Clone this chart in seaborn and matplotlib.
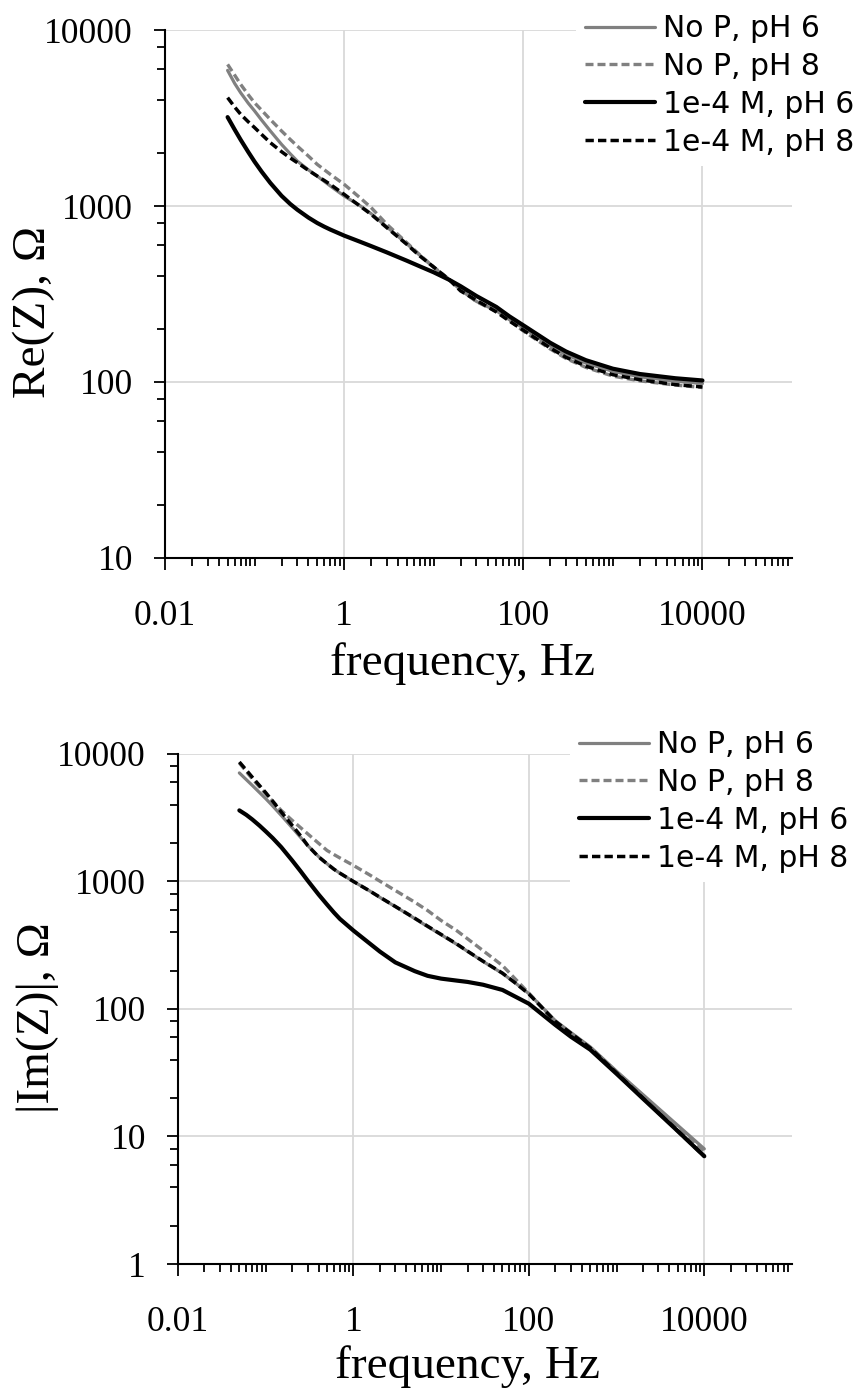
import matplotlib

matplotlib.use("Agg")
import matplotlib.pyplot as plt
import seaborn as sns
from matplotlib.ticker import FixedLocator, FuncFormatter, NullFormatter

# =============================================================================
# DATA
# =============================================================================
freq = [0.05, 0.06, 0.07, 0.085, 0.1, 0.12, 0.15, 0.2, 0.25, 0.3, 0.4, 0.5,
        0.6, 0.7, 1, 1.5, 2, 3, 5, 7, 10, 15, 20, 30, 50, 70, 100, 200, 300,
        500, 1000, 2000, 5000, 10000]

labels = ["No P, pH 6", "No P, pH 8", "1e-4 M, pH 6", "1e-4 M, pH 8"]

# Re(Z), ohm
re_nop_ph6 = [5900, 4970, 4400, 3840, 3470, 3075, 2670, 2240, 1980, 1800, 1603,
              1480, 1380, 1300, 1140, 1005, 905, 760, 610, 525, 447, 380, 333,
              287, 254, 226, 203, 161, 143, 128, 115, 107, 101, 98]
re_nop_ph8 = [6380, 5540, 4910, 4290, 3860, 3500, 3100, 2670, 2390, 2190, 1920,
              1725, 1607, 1514, 1328, 1115, 980, 787, 619, 527, 450, 382, 335,
              286, 252, 224, 195, 154, 136, 121, 108, 101.5, 96, 93]
re_p_ph6 = [3200, 2716, 2377, 2028, 1786, 1567, 1352, 1143, 1027, 953, 859, 801,
            763, 735, 679, 627, 592, 545, 489, 454, 420, 380, 350, 308, 267,
            236, 210, 167, 149, 133, 119, 111, 105, 102]
re_p_ph8 = [4130, 3650, 3320, 3010, 2790, 2550, 2290, 2036, 1875, 1763, 1593,
            1480, 1397, 1327, 1165, 1000, 897, 753, 606, 520, 450, 380, 329,
            291, 250, 222, 197, 156, 138, 123, 110, 103, 96.6, 93.7]

# |Im(Z)|, ohm
im_nop_ph6 = [7100, 6290, 5680, 4980, 4460, 3910, 3300, 2640, 2215, 1920, 1570,
              1377, 1247, 1162, 1000, 850, 750, 635, 512, 443, 382, 322, 283,
              236, 190, 160, 132, 81, 65.5, 50.5, 32.5, 21.3, 12.2, 8.0]
im_nop_ph8 = [8500, 7280, 6400, 5500, 4870, 4260, 3610, 3016, 2640, 2367, 1995,
              1750, 1625, 1530, 1336, 1135, 1006, 850, 688, 592, 494, 412, 355,
              287, 219, 172, 133, 80, 64.5, 50, 32, 20.8, 11.8, 7.7]
im_p_ph6 = [3610, 3330, 3070, 2740, 2470, 2190, 1860, 1462, 1202, 1018, 791,
            659, 570, 509, 412, 330, 282, 232, 198, 182, 173, 167, 163, 155,
            141, 125, 110, 75, 60.7, 48, 31, 19.8, 11.0, 7.0]
im_p_ph8 = [8650, 7480, 6590, 5650, 4970, 4260, 3510, 2755, 2280, 1920, 1560,
            1377, 1247, 1162, 1000, 850, 753, 637, 515, 446, 384, 324, 284,
            237, 191, 160, 131, 80, 64.7, 49.5, 31.5, 20.0, 11.0, 7.0]

# tick positions
x_major = [0.01, 1, 100, 10000]
x_minor = [m * 10.0 ** e for e in range(-2, 5) for m in range(1, 10)
           if m * 10.0 ** e <= 100000]
re_major = [10, 100, 1000, 10000]
im_major = [1, 10, 100, 1000, 10000]

# line styles: (color, linestyle, linewidth)
styles = [
    ("#808080", "-", 2.3),
    ("#808080", (0, (2.4, 1.2)), 2.4),
    ("#000000", "-", 3.0),
    ("#000000", (0, (2.4, 1.2)), 2.5),
]

# =============================================================================
# STYLE
# =============================================================================
sns.set_theme(style="white")
plt.rcParams["font.family"] = ["Liberation Serif", "DejaVu Serif"]
plt.rcParams["axes.linewidth"] = 1.5

fig = plt.figure(figsize=(8.58, 13.97), dpi=100)
ax_re = fig.add_axes([0.1923, 0.6006, 0.7308, 0.3779])
ax_im = fig.add_axes([0.2075, 0.0952, 0.7156, 0.3651])


def fmt_num(v, pos):
    return "{:g}".format(v)


def draw_panel(ax, series, y_major, ylabel, ylabel_xy, xlabel_x, legend_xy):
    for vals, lab, (col, ls, lw) in zip(series, labels, styles):
        sns.lineplot(x=freq, y=vals, ax=ax, color=col, linestyle=ls,
                     linewidth=lw, label=lab, estimator=None,
                     solid_capstyle="round")

    ax.set_xscale("log")
    ax.set_yscale("log")
    ax.set_xlim(0.01, 100000)
    ax.set_ylim(y_major[0], y_major[-1])

    y_minor = [m * v for v in y_major[:-1] for m in (2, 4, 6, 8)]
    ax.xaxis.set_major_locator(FixedLocator(x_major))
    ax.xaxis.set_minor_locator(FixedLocator(x_minor))
    ax.yaxis.set_major_locator(FixedLocator(y_major))
    ax.yaxis.set_minor_locator(FixedLocator(y_minor))
    ax.xaxis.set_major_formatter(FuncFormatter(fmt_num))
    ax.yaxis.set_major_formatter(FuncFormatter(fmt_num))
    ax.xaxis.set_minor_formatter(NullFormatter())
    ax.yaxis.set_minor_formatter(NullFormatter())

    ax.tick_params(axis="both", which="both", direction="out", color="black",
                   width=1.3, labelsize=25.5, labelcolor="black")
    ax.tick_params(axis="x", which="major", length=8.5, pad=22)
    ax.tick_params(axis="x", which="minor", length=5.5)
    ax.tick_params(axis="y", which="major", length=8, pad=15)
    ax.tick_params(axis="y", which="minor", length=5.5)
    ax.tick_params(top=False, right=False, bottom=True, left=True, which="both")

    for side in ["top", "right"]:
        ax.spines[side].set_visible(False)
    for side in ["left", "bottom"]:
        ax.spines[side].set_color("black")
        ax.spines[side].set_linewidth(1.5)

    ax.set_axisbelow(True)
    ax.grid(True, which="major", color="#d9d9d9", linewidth=1.3)
    ax.grid(False, which="minor")

    ax.set_xlabel("frequency, Hz", fontsize=34, color="black")
    ax.set_ylabel(ylabel, fontsize=34, color="black")
    ax.xaxis.set_label_coords(xlabel_x, -0.159)
    ax.yaxis.set_label_coords(ylabel_xy[0], ylabel_xy[1])

    leg = ax.legend(loc="upper left", bbox_to_anchor=legend_xy,
                    bbox_transform=fig.transFigure, borderaxespad=0,
                    borderpad=0.3, handlelength=2.35, handletextpad=0.27,
                    labelspacing=0.3, frameon=True, framealpha=1,
                    facecolor="white", edgecolor="none", fancybox=False,
                    prop={"family": "DejaVu Sans", "size": 21.5})
    for t in leg.get_texts():
        t.set_color("black")


draw_panel(ax_re, [re_nop_ph6, re_nop_ph8, re_p_ph6, re_p_ph8], re_major,
           "Re(Z), \u03a9", (-0.175, 0.466), 0.474, (576 / 858, 1 - 5 / 1397))
draw_panel(ax_im, [im_nop_ph6, im_nop_ph8, im_p_ph6, im_p_ph8], im_major,
           "|Im(Z)|, \u03a9", (-0.194, 0.484), 0.472, (570 / 858, 1 - 721 / 1397))

fig.savefig("out.png", dpi=100)
